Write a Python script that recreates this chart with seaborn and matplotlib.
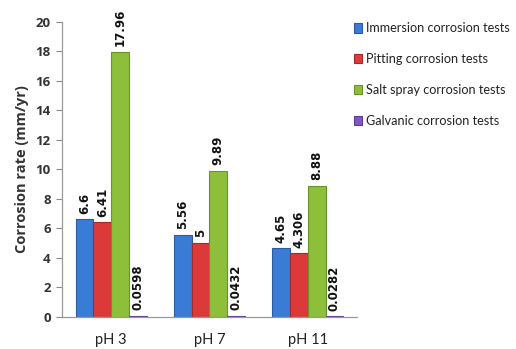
import matplotlib
matplotlib.use("Agg")
import matplotlib.pyplot as plt
import seaborn as sns
import pandas as pd

# Corrosion rates (mm/yr) by pH and test method
ph_levels = ["pH 3", "pH 7", "pH 11"]
tests = [
    "Immersion corrosion tests",
    "Pitting corrosion tests",
    "Salt spray corrosion tests",
    "Galvanic corrosion tests",
]
immersion = [6.6, 5.56, 4.65]
pitting = [6.41, 5.0, 4.306]
salt_spray = [17.96, 9.89, 8.88]
galvanic = [0.0598, 0.0432, 0.0282]
value_labels = [
    ["6.6", "5.56", "4.65"],
    ["6.41", "5", "4.306"],
    ["17.96", "9.89", "8.88"],
    ["0.0598", "0.0432", "0.0282"],
]
y_ticks = [0, 2, 4, 6, 8, 10, 12, 14, 16, 18, 20]

series = [immersion, pitting, salt_spray, galvanic]
rows = []
for test, vals in zip(tests, series):
    for ph, v in zip(ph_levels, vals):
        rows.append({"pH": ph, "Test": test, "Rate": v})
df = pd.DataFrame(rows)

colors = ["#3a7bd5", "#dc3a3a", "#8dbf3a", "#7e57c2"]
edges = ["#2a5d9f", "#a82828", "#6a9428", "#5c3d96"]

sns.set_theme(style="white")
plt.rcParams["font.family"] = ["Lato", "DejaVu Sans"]

fig = plt.figure(figsize=(5.16, 3.49), dpi=100)
ax = fig.add_axes([0.12, 0.0926, 0.572, 0.845])

sns.barplot(
    data=df, x="pH", y="Rate", hue="Test", order=ph_levels, hue_order=tests,
    palette=colors, width=0.72, dodge=True, ax=ax, legend=True,
    saturation=1, errorbar=None,
)

for cont, ec, labels in zip(ax.containers, edges, value_labels):
    for bar in cont:
        bar.set_edgecolor(ec)
        bar.set_linewidth(0.8)
    ax.bar_label(
        cont, labels=labels, rotation=90, padding=4,
        fontsize=8.5, fontweight="bold", family="DejaVu Sans", color="#111111",
    )

ax.set_ylim(0, 20)
ax.set_xlim(-0.5, 2.5)
ax.set_yticks(y_ticks)
ax.set_yticklabels([str(t) for t in y_ticks], fontsize=9.5, fontweight="bold",
                   family="Open Sans", color="#333333")
ax.set_xlabel("")
ax.set_ylabel("Corrosion rate (mm/yr)", fontsize=10.5, fontweight="bold",
              family="Open Sans", color="#333333", labelpad=5)
ax.tick_params(axis="x", length=0, pad=12, labelsize=10.5, colors="#222222")
ax.tick_params(axis="y", length=4, width=0.8, color="#888888", left=True, pad=4)

for side in ["top", "right"]:
    ax.spines[side].set_visible(False)
for side in ["left", "bottom"]:
    ax.spines[side].set_color("#999999")
    ax.spines[side].set_linewidth(0.9)

leg = ax.legend(
    loc="upper left", bbox_to_anchor=(0.99, 0.999), frameon=False,
    borderaxespad=0, borderpad=0,
    fontsize=9.1, handlelength=0.65, handleheight=0.8, handletextpad=0.3,
    labelspacing=1.5,
)
for h, ec in zip(leg.legend_handles, edges):
    h.set_edgecolor(ec)
    h.set_linewidth(0.8)
for t in leg.get_texts():
    t.set_color("#222222")

fig.savefig("out.png", dpi=100)
